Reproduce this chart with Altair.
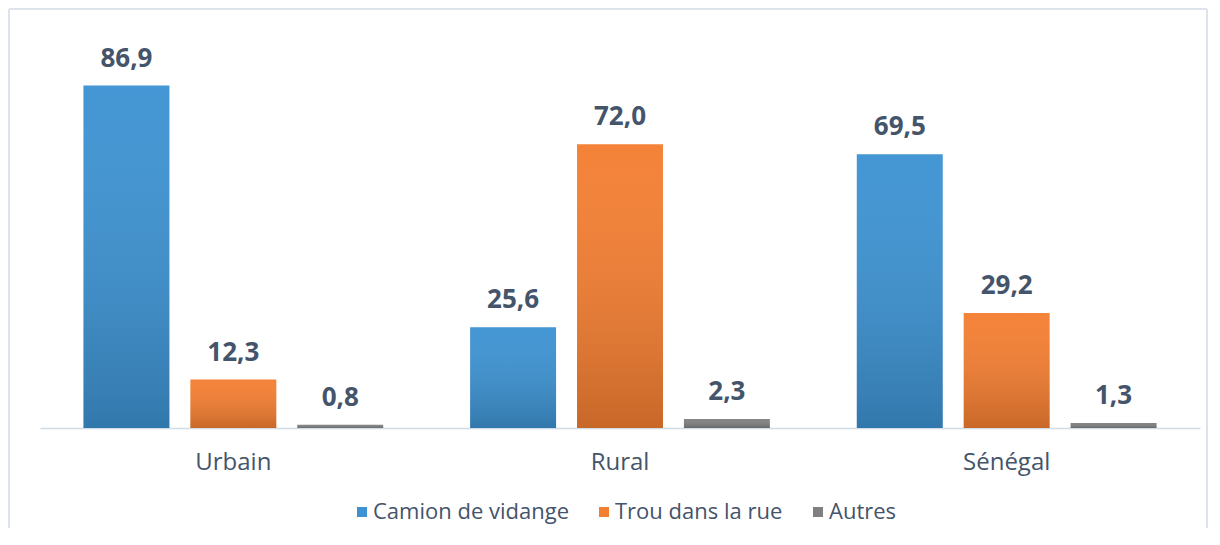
import altair as alt
import pandas as pd

groups = ["Urbain", "Rural", "Sénégal"]
series = ["Camion de vidange", "Trou dans la rue", "Autres"]
camion = [86.9, 25.6, 69.5]
trou = [12.3, 72.0, 29.2]
autres = [0.8, 2.3, 1.3]
colors = ["#3C92D2", "#F47E31", "#808080"]

rows = []
for s, vals in zip(series, [camion, trou, autres]):
    for g, v in zip(groups, vals):
        rows.append({"groupe": g, "serie": s, "valeur": v,
                     "label": f"{v:.1f}".replace(".", ",")})
df = pd.DataFrame(rows)

TEXT = "#44546A"
FONT = "Open Sans"

x = alt.X("groupe:N", sort=groups, title=None,
          scale=alt.Scale(paddingInner=0, paddingOuter=0),
          axis=alt.Axis(labelAngle=0, labelFontSize=24, labelColor=TEXT,
                        labelFont=FONT, ticks=False, domainColor="#D0DCE6",
                        domainWidth=1.5, labelPadding=22))
xo = alt.XOffset("serie:N", sort=series,
                 scale=alt.Scale(paddingInner=0.196, paddingOuter=0.4065))
y = alt.Y("valeur:Q", scale=alt.Scale(domain=[0, 100]), axis=None)

base = alt.Chart(df).encode(x=x, xOffset=xo, y=y)

bars = base.mark_bar().encode(
    color=alt.Color("serie:N", sort=series,
                    scale=alt.Scale(domain=series, range=colors),
                    legend=alt.Legend(title=None, orient="none", direction="horizontal",
                                      legendX=311, legendY=467, symbolType="square",
                                      symbolSize=100, symbolStrokeWidth=0,
                                      labelFontSize=22, labelColor=TEXT, labelFont=FONT,
                                      labelLimit=400, columnPadding=24, labelOffset=0))
)

shade = base.mark_bar(color={
    "gradient": "linear", "x1": 0, "y1": 0, "x2": 0, "y2": 1,
    "stops": [{"offset": 0, "color": "rgba(255,255,255,0.04)"},
              {"offset": 1, "color": "rgba(0,0,0,0.18)"}]
})

labels = base.mark_text(dy=-19, baseline="alphabetic", fontSize=26,
                        fontWeight="bold", font=FONT, color=TEXT).encode(text="label:N")

frame_top = alt.Chart(df).mark_rule(color="#DDE3EA", strokeWidth=1.5).encode(
    x=alt.value(-31), x2=alt.value(1167), y=alt.value(-25))
frame_left = alt.Chart(df).mark_rule(color="#DDE3EA", strokeWidth=1.5).encode(
    x=alt.value(-31), y=alt.value(-25), y2=alt.value(500))
frame_right = alt.Chart(df).mark_rule(color="#DDE3EA", strokeWidth=1.5).encode(
    x=alt.value(1167), y=alt.value(-25), y2=alt.value(500))

chart = alt.layer(bars, shade, labels, frame_top, frame_left, frame_right).properties(
    width=1160, height=394,
    background="white",
    autosize=alt.AutoSizeParams(type="none"),
    padding={"left": 32, "top": 26, "right": 8, "bottom": 100},
).configure_view(strokeWidth=0, stroke="transparent")

chart.save("out.html", embed_options={"renderer": "svg", "actions": False})
